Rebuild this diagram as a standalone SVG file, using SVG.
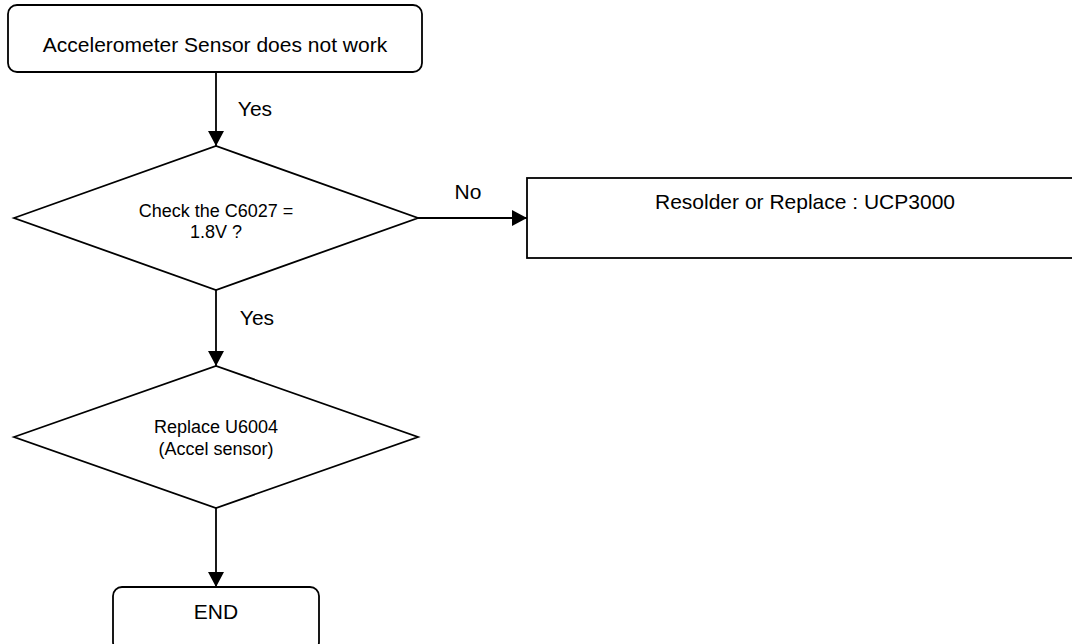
<svg xmlns="http://www.w3.org/2000/svg" width="1072" height="644" viewBox="0 0 1072 644">
<style>
.s{fill:#fff;stroke:#000;stroke-width:1.8}
.c{fill:none;stroke:#000;stroke-width:1.8}
.t{font-family:"Liberation Sans",Arial,sans-serif;fill:#000;text-anchor:middle}
.l{font-size:21px}
.m{font-size:18px}
</style>
<defs>
<marker id="ah" markerUnits="userSpaceOnUse" markerWidth="16" markerHeight="16" viewBox="0 0 16 16" refX="15" refY="8" orient="auto">
<path d="M0,0 L15,8 L0,16 Z" fill="#000"/>
</marker>
</defs>
<rect width="1072" height="644" fill="#fff"/>
<g id="connectors">
<line class="c" x1="216" y1="72" x2="216" y2="146" marker-end="url(#ah)"/>
<line class="c" x1="418" y1="218" x2="527" y2="218" marker-end="url(#ah)"/>
<line class="c" x1="216" y1="290" x2="216" y2="366" marker-end="url(#ah)"/>
<line class="c" x1="216" y1="508" x2="216" y2="587" marker-end="url(#ah)"/>
<text class="t l" x="255" y="116">Yes</text>
<text class="t l" x="468" y="199">No</text>
<text class="t l" x="257" y="325">Yes</text>
</g>
<g id="start">
<rect class="s" x="8" y="5" width="414" height="67" rx="9"/>
<text class="t l" x="215" y="52">Accelerometer Sensor does not work</text>
</g>
<g id="check">
<polygon class="s" points="14,218 216,146 418,218 216,290"/>
<text class="t m" x="216" y="217">Check the C6027 =</text>
<text class="t m" x="216" y="238">1.8V ?</text>
</g>
<g id="resolder">
<rect class="s" x="527" y="178" width="556" height="80"/>
<text class="t l" x="805" y="209">Resolder or Replace : UCP3000</text>
</g>
<g id="replace">
<polygon class="s" points="14,437 216,366 418,437 216,508"/>
<text class="t m" x="216" y="433">Replace U6004</text>
<text class="t m" x="216" y="455">(Accel sensor)</text>
</g>
<g id="end">
<rect class="s" x="113" y="587" width="206" height="64" rx="9"/>
<text class="t l" x="216" y="619">END</text>
</g>
</svg>
